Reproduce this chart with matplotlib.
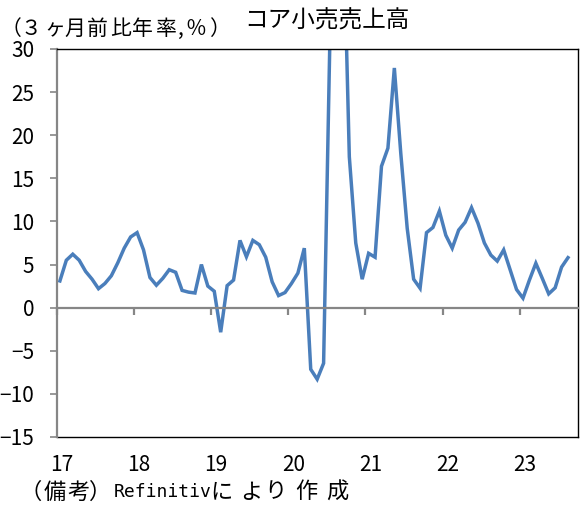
import numpy as np
import matplotlib
matplotlib.use('Agg')
import matplotlib.pyplot as plt
import matplotlib.transforms as mtransforms

plt.rcParams['font.family'] = ['Noto Sans CJK JP', 'DejaVu Sans']

# コア小売売上高（3ヶ月前比年率, %）2017年1月～2023年8月
values = [3.1, 5.5, 6.2, 5.5, 4.2, 3.3, 2.2, 2.8, 3.7, 5.2, 6.9, 8.2,      # 2017
          8.7, 6.7, 3.5, 2.6, 3.4, 4.4, 4.1, 2.0, 1.8, 1.7, 5.0, 2.5,      # 2018
          1.9, -2.85, 2.55, 3.2, 7.8, 5.9, 7.8, 7.3, 5.85, 3.0, 1.4, 1.75, # 2019
          2.8, 4.0, 6.9, -7.15, -8.3, -6.45, 32.0, 55.0, 47.0, 17.5, 7.5, 3.3,  # 2020
          6.3, 5.85, 16.4, 18.5, 27.8, 17.9, 9.2, 3.3, 2.25, 8.7, 9.3, 11.2,    # 2021
          8.4, 6.9, 9.0, 9.9, 11.6, 9.8, 7.5, 6.1, 5.4, 6.7, 4.4, 2.1,      # 2022
          1.1, 3.2, 5.15, 3.4, 1.6, 2.3, 4.7, 5.8]                         # 2023
years = ['17', '18', '19', '20', '21', '22', '23']
n_slots = 81  # 2017年1月～2023年9月

W, H = 588, 513
x = np.arange(len(values))

fig = plt.figure(figsize=(W / 100, H / 100), dpi=100)
ax = fig.add_axes([0.0964, 0.1482, 0.886, 0.7563])

ax.plot(x, values, color='#4a7ebb', linewidth=2.5, solid_joinstyle='miter')

ax.set_xlim(-0.5, n_slots - 0.5)
ax.set_ylim(-15, 30)
ax.set_yticks(np.arange(-15, 31, 5))
ax.set_yticklabels([str(v).replace('-', '\u2212') for v in range(-15, 31, 5)])

# 枠線
for s in ['top', 'right']:
    ax.spines[s].set_color('black')
    ax.spines[s].set_linewidth(1.0)
ax.spines['left'].set_color('#868686')
ax.spines['left'].set_linewidth(1.6)
ax.spines['bottom'].set_position(('data', 0))
ax.spines['bottom'].set_color('#868686')
ax.spines['bottom'].set_linewidth(1.6)
ax.plot([0, 1], [0, 0], transform=ax.transAxes, color='black', linewidth=1.0, clip_on=False)

ax.tick_params(axis='y', direction='out', length=5, width=1.2, color='#868686',
               labelsize=15, pad=11)
year_pos = [12 * i - 0.5 for i in range(len(years))]
ax.set_xticks(year_pos)
ax.set_xticklabels([])
ax.tick_params(axis='x', direction='out', length=5, width=1.6, color='#868686')

trans = mtransforms.blended_transform_factory(ax.transData, ax.transAxes)
for i, lab in enumerate(years):
    ax.text(12 * i + 0.3, -0.072, lab, transform=trans, ha='center', va='center', fontsize=15)


# 元図は文字間隔が広いので1文字ずつ配置する（x はピクセル）
def put_chars(chars, xs_px, y_px, size, **kw):
    for c, xp in zip(chars, xs_px):
        fig.text(xp / W, 1 - y_px / H, c, ha='center', va='center', fontsize=size, **kw)


fig.text(327 / W, 1 - 21.5 / H, 'コア小売売上高', ha='center', va='center', fontsize=17)

put_chars(['（', '３', 'ヶ', '月', '前', '比', '年', '率', ',', '％', '）'],
          [11, 31, 55, 75, 97.5, 121, 142.5, 166, 181, 196, 219], 29, 15)

put_chars(['（', '備', '考', '）'], [31, 55, 79, 100], 492, 16)
fig.text(114 / W, 1 - 492 / H, 'Refinitiv', ha='left', va='center', fontsize=13,
         family='DejaVu Sans Mono')
put_chars(['に', 'よ', 'り', '作', '成'], [221, 251, 275, 306, 337], 492, 16)

fig.savefig('out.png', dpi=100)
